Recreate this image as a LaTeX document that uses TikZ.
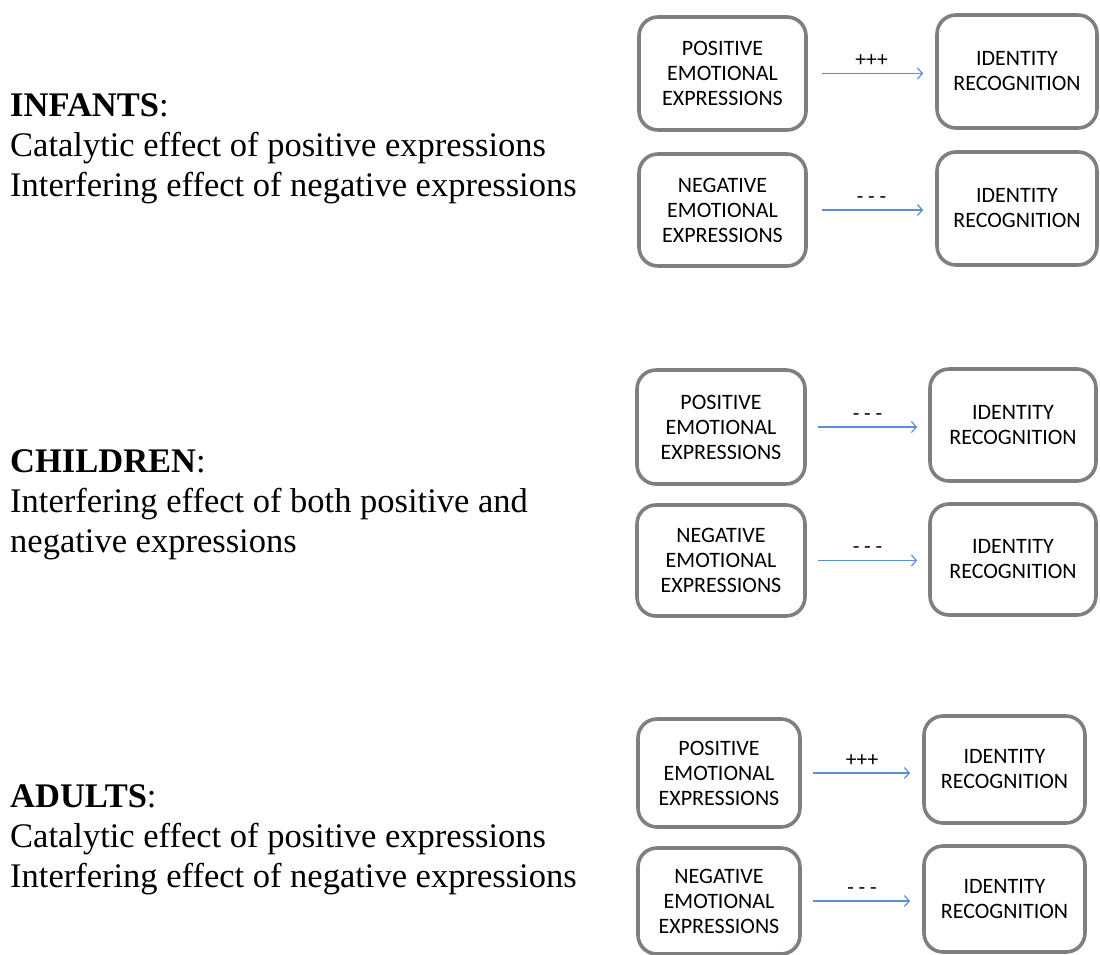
\documentclass[tikz,border=0pt]{standalone}
\usepackage{fontspec}
\setmainfont{Carlito}
\newfontfamily\bodyserif{Liberation Serif}
\usetikzlibrary{arrows.meta}
\definecolor{boxgray}{HTML}{7F7F7F}
\definecolor{arrowblue}{HTML}{5F8FD3}
\tikzset{
  x=1pt, y=-1pt,
  effbox/.style={draw=boxgray, line width=3.6pt, rounded corners=19pt,
    align=center, font=\fontsize{22}{25}\selectfont, inner sep=0pt},
  effarrow/.style={draw=arrowblue, line width=1.2pt,
    -{Straight Barb[length=5pt,width=11pt,line width=1.2pt]}},
  efflabel/.style={font=\fontsize{21.5}{25}\selectfont, inner sep=0pt},
  grouptext/.style={anchor=base west, align=left, inner sep=0pt,
    font=\bodyserif\fontsize{34.5}{40}\selectfont},
}
\begin{document}
\begin{tikzpicture}
\useasboundingbox (0,0) rectangle (1100,954);
\clip (0,0) rectangle (1100,954);

% ---------- infants (node base = baseline of the last line) ----------
\node[grouptext] (tinf) at (10,196) {\textbf{INFANTS}:\\Catalytic effect of positive expressions\\Interfering effect of negative expressions};
\node[effbox, minimum width=167pt, minimum height=113pt] (p1) at (722.5,73.5) {POSITIVE\\EMOTIONAL\\EXPRESSIONS};
\node[effbox, minimum width=160pt, minimum height=113pt] (i1) at (1017,71.5) {IDENTITY\\RECOGNITION};
\node[effbox, minimum width=167pt, minimum height=112pt] (n1) at (722.5,210) {NEGATIVE\\EMOTIONAL\\EXPRESSIONS};
\node[effbox, minimum width=160pt, minimum height=113pt] (j1) at (1017,208.5) {IDENTITY\\RECOGNITION};
\draw[effarrow, shorten <=14pt, shorten >=12pt] (p1.east) -- (p1.east -| i1.west)
  node[efflabel, midway, above=6pt] (l1) {+++};
\draw[effarrow, shorten <=14pt, shorten >=12pt] (n1.east) -- (n1.east -| j1.west)
  node[efflabel, midway, above=6pt] (m1) {- - -};

% ---------- children ----------
\node[grouptext] (tchi) at (10,552) {\textbf{CHILDREN}:\\Interfering effect of both positive and\\negative expressions};
\node[effbox, minimum width=168pt, minimum height=114pt] (p2) at (721,427) {POSITIVE\\EMOTIONAL\\EXPRESSIONS};
\node[effbox, minimum width=166pt, minimum height=112pt] (i2) at (1013,425) {IDENTITY\\RECOGNITION};
\node[effbox, minimum width=168pt, minimum height=111pt] (n2) at (721,560.5) {NEGATIVE\\EMOTIONAL\\EXPRESSIONS};
\node[effbox, minimum width=166pt, minimum height=111pt] (j2) at (1013,559.5) {IDENTITY\\RECOGNITION};
\draw[effarrow, shorten <=11pt, shorten >=11pt] (p2.east) -- (p2.east -| i2.west)
  node[efflabel, midway, above=6pt] (l2) {- - -};
\draw[effarrow, shorten <=11pt, shorten >=11pt] (n2.east) -- (n2.east -| j2.west)
  node[efflabel, midway, above=6pt] (m2) {- - -};

% ---------- adults ----------
\node[grouptext] (tadu) at (10,887) {\textbf{ADULTS}:\\Catalytic effect of positive expressions\\Interfering effect of negative expressions};
\node[effbox, minimum width=162pt, minimum height=108pt] (p3) at (719,773) {POSITIVE\\EMOTIONAL\\EXPRESSIONS};
\node[effbox, minimum width=161pt, minimum height=107pt] (i3) at (1004.5,769.5) {IDENTITY\\RECOGNITION};
\node[effbox, minimum width=162pt, minimum height=106pt] (n3) at (719,901) {NEGATIVE\\EMOTIONAL\\EXPRESSIONS};
\node[effbox, minimum width=161pt, minimum height=106pt] (j3) at (1004.5,899) {IDENTITY\\RECOGNITION};
\draw[effarrow, shorten <=11pt, shorten >=12pt] (p3.east) -- (p3.east -| i3.west)
  node[efflabel, midway, above=6pt] (l3) {+++};
\draw[effarrow, shorten <=11pt, shorten >=12pt] (n3.east) -- (n3.east -| j3.west)
  node[efflabel, midway, above=6pt] (m3) {- - -};
\end{tikzpicture}
\end{document}
